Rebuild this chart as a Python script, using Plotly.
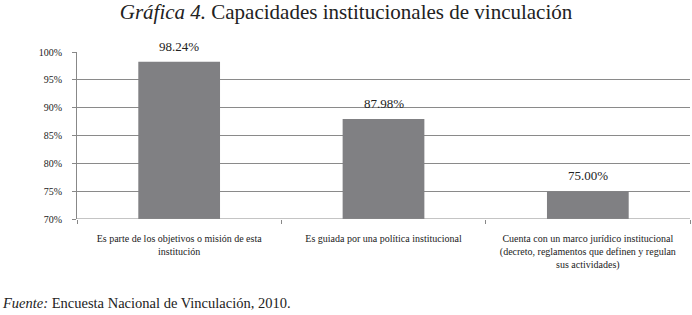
import plotly.graph_objects as go

categories = [
    "Es parte de los objetivos o misión de esta<br>institución",
    "Es guiada por una política institucional",
    "Cuenta con un marco jurídico institucional<br>(decreto, reglamentos que definen y regulan<br>sus actividades)",
]
values = [98.24, 87.98, 75.00]
value_labels = ["98.24%", "87.98%", "75.00%"]
y_ticks = [70, 75, 80, 85, 90, 95, 100]
y_tick_labels = ["70%", "75%", "80%", "85%", "90%", "95%", "100%"]
BASE = 70

SERIF = "Liberation Serif"

fig = go.Figure()
fig.add_trace(go.Bar(
    x=categories,
    y=[v - BASE for v in values],
    base=BASE,
    width=0.4,
    marker=dict(color="#808083", line=dict(width=0)),
    hoverinfo="skip",
))

for cat, val, lab in zip(categories, values, value_labels):
    fig.add_annotation(
        x=cat, y=val, xref="x", yref="y",
        text=lab, showarrow=False,
        yanchor="bottom", xanchor="center", yshift=6,
        font=dict(family=SERIF, size=13, color="#222"),
    )

fig.update_layout(
    width=692, height=315,
    margin=dict(l=77, r=2, t=52, b=96, autoexpand=False),
    paper_bgcolor="white", plot_bgcolor="white",
    showlegend=False,
    font=dict(family=SERIF, size=10, color="#222"),
    title=dict(
        text="<i>Gráfica 4.</i> Capacidades institucionales de vinculación",
        x=0.5, xanchor="center", y=1 - 12 / 315, yanchor="middle",
        font=dict(family=SERIF, size=21, color="#222"),
    ),
)
fig.update_xaxes(
    showline=False, automargin=False,
    ticks="outside", tickson="boundaries", ticklen=4, tickcolor="#888",
    ticklabelstandoff=12,
    tickfont=dict(family=SERIF, size=10, color="#222"),
    showgrid=False,
)
fig.update_yaxes(
    range=[70, 100], automargin=False,
    tickvals=y_ticks, ticktext=y_tick_labels,
    showline=True, linecolor="#888", linewidth=1,
    ticks="outside", ticklen=4, tickcolor="#888",
    ticklabelstandoff=8,
    showgrid=True, gridcolor="#8a8a8a", gridwidth=1,
    zeroline=False,
    tickfont=dict(family=SERIF, size=10, color="#222"),
)
fig.add_shape(type="line", xref="paper", yref="y", x0=0, x1=1, y0=70, y1=70,
              line=dict(color="#888", width=1))

fig.add_annotation(
    text="<i>Fuente:</i> Encuesta Nacional de Vinculación, 2010.",
    xref="paper", yref="paper", x=-77 / 613, y=0, yanchor="middle", xanchor="left",
    yshift=-(303 - 219),
    showarrow=False,
    font=dict(family=SERIF, size=14.5, color="#222"),
)

fig.write_html(
    "out.html",
    config={"displayModeBar": False},
    post_script="document.body.style.margin='0';document.body.style.padding='0';",
)
